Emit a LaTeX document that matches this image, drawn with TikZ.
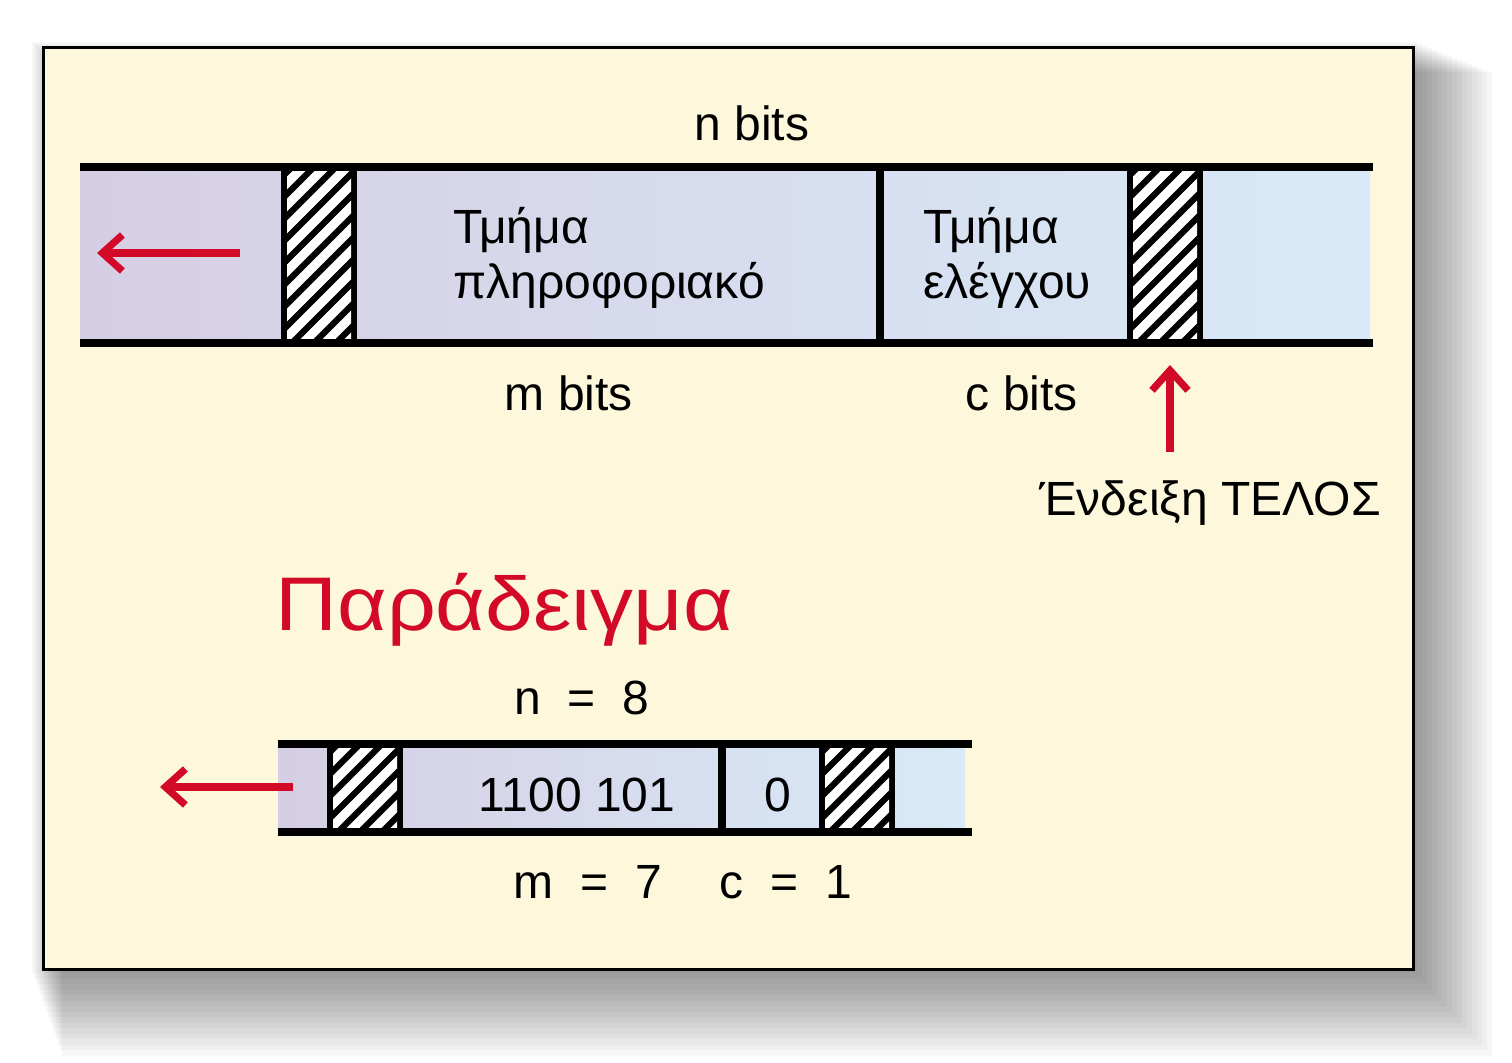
\documentclass[tikz,border=0pt]{standalone}
\usetikzlibrary{arrows.meta}
\usepackage{fontspec}
\setmainfont{Liberation Sans}
\begin{document}
\begin{tikzpicture}[x=0.5pt,y=-0.5pt,
  lbl/.style={font=\fontsize{24}{26}\selectfont,inner sep=0pt},
  redarrow/.style={draw={rgb,255:red,210;green,10;blue,40},line width=3.6pt,-{Straight Barb[length=10pt,width=18pt,line width=3.6pt]}},
  tape/.style={line width=4pt}]
\useasboundingbox (0,0) rectangle (1512,1063);
\definecolor{bg}{RGB}{253,248,220}
\definecolor{lav}{RGB}{214,206,228}
\definecolor{lblue}{RGB}{216,234,247}
\definecolor{redc}{RGB}{210,10,40}
% shadow
\foreach \i in {1,...,16}{
  \fill[black,opacity=0.03] (30+\i*2,40+\i*2) rectangle (1412+\i*5,968+\i*5.5);}
\node[draw,line width=1.5pt,fill=bg,minimum width=685pt,minimum height=461pt,inner sep=0pt,anchor=north west] (frame) at (42,46) {};
% ===== top tape
\shade[left color=lav,right color=lblue] (80,167) rectangle (1370,343);
\newcommand{\hatchblock}[4]{%
  \fill[black] (#1,#3) rectangle (#2,#4);
  \begin{scope}
  \clip (#1+6,#3) rectangle (#2-6,#4);
  \foreach \k in {-12,...,12}{
    \draw[white,line width=4.5pt] (#1+\k*22,#4) -- ++(200,-200);}
  \end{scope}}
\hatchblock{281}{357}{167}{343}
\hatchblock{1127}{1203}{167}{343}
\draw[line width=4pt] (880,167) -- (880,343);
\draw[tape] (80,167) -- (1373,167);
\draw[tape] (80,343) -- (1373,343);
\coordinate (a1s) at (240,253); \coordinate (a1e) at (97,253);
\draw[redarrow] (a1s) -- (a1e);
\node[lbl] (nb) at (752,123) {n bits};
\node[lbl,anchor=west] (t1) at (453,230) {Τμήμα};
\node[lbl,anchor=west] (t2) at (453,285) {πληροφοριακό};
\node[lbl,anchor=west] (t3) at (923,230) {Τμήμα};
\node[lbl,anchor=west] (t4) at (923,285) {ελέγχου};
\node[lbl] (mb) at (569,393) {m bits};
\node[lbl] (cb) at (1022,393) {c bits};
\node[lbl] (end) at (1210,503) {Ένδειξη ΤΕΛΟΣ};
\coordinate (a2s) at (1170,452); \coordinate (a2e) at (1170,365);
\draw[redarrow] (a2s) -- (a2e);
% ===== example
\node[inner sep=0pt,anchor=west,text=redc,xscale=1.13,font=\fontsize{38}{40}\selectfont] (ex) at (275,610) {Παράδειγμα};
\node[lbl] (n8) at (582,698) {n\ \ =\ \ 8};
\shade[left color=lav,right color=lblue] (278,744) rectangle (965,832);
\hatchblock{327}{403}{744}{832}
\hatchblock{819}{895}{744}{832}
\draw[line width=4pt] (722,744) -- (722,832);
\draw[tape] (278,744) -- (972,744);
\draw[tape] (278,832) -- (972,832);
\coordinate (a3s) at (293,787); \coordinate (a3e) at (160,787);
\draw[redarrow] (a3s) -- (a3e);
\node[lbl] (d1) at (577,795) {1100 101};
\node[lbl] (d2) at (778,795) {0};
\node[lbl] (m7) at (588,882) {m\ \ =\ \ 7};
\node[lbl] (c1) at (786,882) {c\ \ =\ \ 1};
\end{tikzpicture}
\end{document}
